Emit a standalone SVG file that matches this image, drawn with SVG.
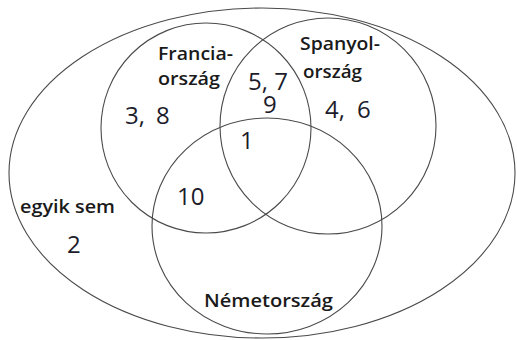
<svg xmlns="http://www.w3.org/2000/svg" width="517" height="340" viewBox="0 0 517 340">
<style>
.set{fill:none;stroke:#4a4a4a;stroke-width:1.1}
.lbl{font-family:"Open Sans","Noto Sans",sans-serif;font-weight:600;font-size:18px;fill:#1a1a1a}
.num{font-family:"Open Sans","Noto Sans",sans-serif;font-size:24px;fill:#1c1c2a}
</style>
<rect width="517" height="340" fill="#fff"/>
<g id="universe">
<ellipse class="set" cx="262" cy="173" rx="253" ry="165"/>
<text class="lbl" x="20" y="213" textLength="95" lengthAdjust="spacingAndGlyphs">egyik sem</text>
<text class="num" x="67" y="253">2</text>
</g>
<g id="francia">
<circle class="set" cx="206" cy="128" r="105"/>
<text class="lbl" x="158" y="60" textLength="75" lengthAdjust="spacingAndGlyphs">Francia-</text>
<text class="lbl" x="158" y="85" textLength="62" lengthAdjust="spacingAndGlyphs">ország</text>
</g>
<g id="spanyol">
<circle class="set" cx="328" cy="126" r="108"/>
<text class="lbl" x="300" y="50" textLength="80" lengthAdjust="spacingAndGlyphs">Spanyol-</text>
<text class="lbl" x="303" y="78" textLength="59" lengthAdjust="spacingAndGlyphs">ország</text>
</g>
<g id="nemet">
<ellipse class="set" cx="267" cy="226" rx="115" ry="108"/>
<text class="lbl" x="204" y="307" textLength="129" lengthAdjust="spacingAndGlyphs">Németország</text>
</g>
<g id="values">
<text class="num" y="124"><tspan x="125">3,</tspan><tspan x="156">8</tspan></text>
<text class="num" x="248" y="90">5, 7</text>
<text class="num" x="263" y="113">9</text>
<text class="num" y="118"><tspan x="325">4,</tspan><tspan x="357">6</tspan></text>
<text class="num" x="240" y="149">1</text>
<text class="num" x="177" y="205">10</text>
</g>
</svg>
